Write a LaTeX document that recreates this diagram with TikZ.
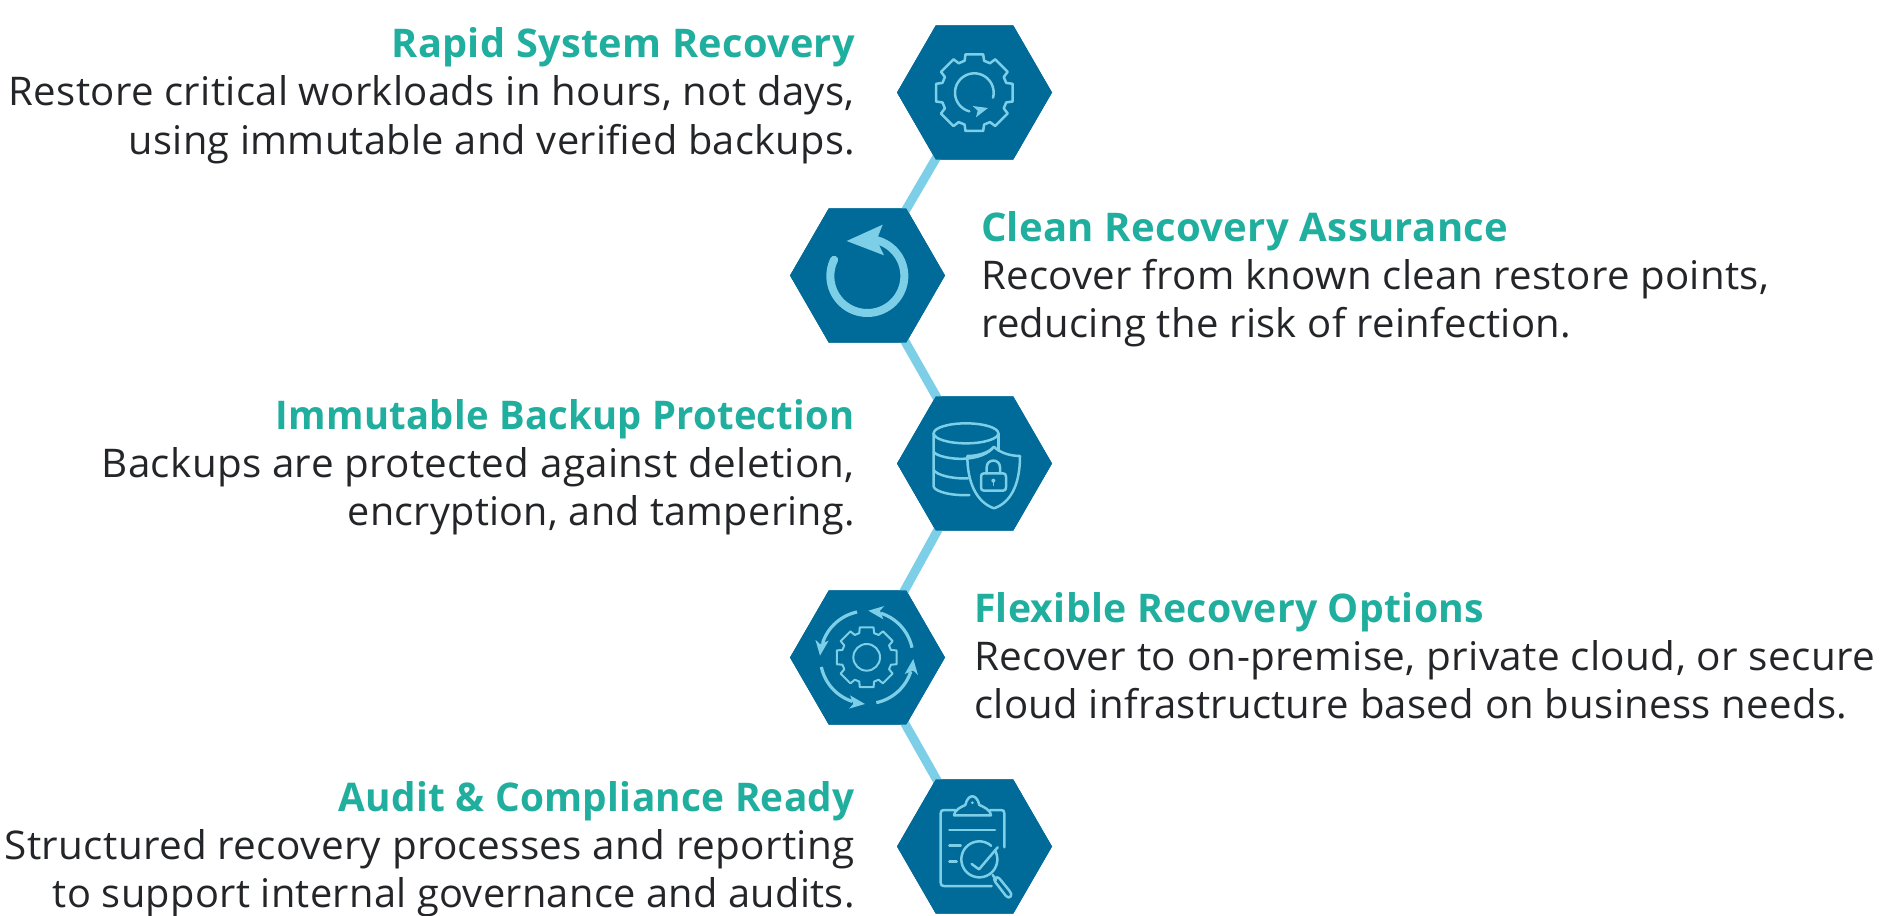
\documentclass[tikz,border=0pt]{standalone}
\usepackage{fontspec}
\usepackage{graphicx}
\setmainfont{Open Sans}[LetterSpace=0.8]
\usetikzlibrary{shapes.geometric}
\definecolor{hexblue}{HTML}{006A98}
\definecolor{iconblue}{HTML}{7DCFE8}
\definecolor{teal}{HTML}{20AE9E}
\definecolor{ink}{HTML}{242528}
\tikzset{
  hexnode/.style={regular polygon,regular polygon sides=6,minimum size=155pt,inner sep=0pt,fill=hexblue,draw=none},
  link/.style={draw=iconblue,line width=9pt},
  ttl/.style={font=\fontsize{39.5}{39.5}\selectfont\bfseries,text=teal,inner sep=0pt,anchor=base east},
  ttr/.style={font=\fontsize{39.5}{39.5}\selectfont\bfseries,text=teal,inner sep=0pt,anchor=base west},
  bdl/.style={font=\fontsize{39.5}{39.5}\selectfont,text=ink,inner sep=0pt,anchor=base east},
  bdr/.style={font=\fontsize{39.5}{39.5}\selectfont,text=ink,inner sep=0pt,anchor=base west},
  icon/.style={draw=iconblue,line width=2.5pt,line join=round,line cap=round},
}
\newcommand{\fitline}[2]{\resizebox{#1pt}{\height}{#2}}
% gear: cx cy rout rin
\newcommand{\gearshape}[4]{%
  \draw[icon] ({#1+#4*cos(-17)},{#2-#4*sin(-17)})
  \foreach \k in {0,45,...,315} {
    -- ({#1+#3*cos(\k-13)},{#2-#3*sin(\k-13)})
    -- ({#1+#3*cos(\k+13)},{#2-#3*sin(\k+13)})
    -- ({#1+#4*cos(\k+17)},{#2-#4*sin(\k+17)})
    -- ({#1+#4*cos(\k+28)},{#2-#4*sin(\k+28)})
  } -- cycle;}
% round arc: cx cy r from to
\newcommand{\arcplot}[6][icon]{%
  \draw[#1] plot[domain=#5:#6,samples=40,smooth] ({#2+#4*cos(\x)},{#3-#4*sin(\x)});}
% arrow segment rotated about centre: cx cy rotation
\newcommand{\cyclearrow}[3]{%
  \begin{scope}[shift={(#1,#2)},rotate=#3]
    \draw[icon,line width=3.2pt,line cap=butt] plot[domain=12:72,samples=30,smooth] ({139*cos(\x)},{-139*sin(\x)});
    \fill[iconblue] (5,-140) -- (53,-154) -- (40,-140) -- (50,-114) -- cycle;
  \end{scope}}
\begin{document}
\begin{tikzpicture}[x=1pt,y=-1pt]
\useasboundingbox (0,0) rectangle (1894,915);
\node[hexnode] (h1) at (974.5,92.5) {};
\node[hexnode] (h2) at (867.5,275.5) {};
\node[hexnode] (h3) at (974.5,463.5) {};
\node[hexnode] (h4) at (867.5,657.5) {};
\node[hexnode] (h5) at (974.5,846.5) {};
% connectors are drawn and the hexagons repainted over them
\draw[link] (h1.center) -- (h2.center);
\draw[link] (h2.center) -- (h3.center);
\draw[link] (h3.center) -- (h4.center);
\draw[link] (h4.center) -- (h5.center);
\node[hexnode] at (h1.center) {};
\node[hexnode] at (h2.center) {};
\node[hexnode] at (h3.center) {};
\node[hexnode] at (h4.center) {};
\node[hexnode] at (h5.center) {};
% icon 1
\begin{scope}[shift={(880,0)},scale=1/3]
  \gearshape{283}{278}{118}{100}
  \arcplot{283}{278}{58}{-15}{255}
  \fill[iconblue] (278,318) -- (324,324) -- (288,352) -- (293,332) -- cycle;
\end{scope}
% icon 2
\begin{scope}[shift={(770,190)},scale=1/3]
  \arcplot[icon,line width=8pt]{292}{258}{111}{154}{435}
  \fill[iconblue] (230,153) -- (338,104) -- (320,150) -- (342,196) -- cycle;
\end{scope}
% icon 3
\begin{scope}[shift={(880,380)},scale=1/3]
  \draw[icon] (258,160) ellipse [x radius=97,y radius=30];
  \draw[icon] (161,160) -- (161,320) .. controls (165,335) and (215,348) .. (268,345);
  \draw[icon] (355,160) -- (355,212);
  \draw[icon] (161,215) .. controls (170,235) and (290,255) .. (338,205);
  \draw[icon] (161,270) .. controls (170,285) and (215,297) .. (264,295);
  \draw[icon] (342,200) .. controls (360,220) and (395,228) .. (420,228)
     .. controls (420,300) and (400,365) .. (342,385)
     .. controls (285,365) and (262,300) .. (262,228)
     .. controls (290,228) and (325,220) .. (342,200) -- cycle;
  \draw[icon] (303,290) .. controls (303,283) and (306,280) .. (312,280) -- (369,280)
     .. controls (375,280) and (378,283) .. (378,290) -- (378,322)
     .. controls (378,329) and (375,332) .. (369,332) -- (312,332)
     .. controls (306,332) and (303,329) .. (303,322) -- cycle;
  \draw[icon] (320,280) -- (320,262) .. controls (320,235) and (360,235) .. (360,262) -- (360,280);
  \fill[iconblue] (340,302) circle [radius=6];
  \draw[icon,line width=1.5pt] (340,302) -- (340,316);
\end{scope}
% icon 4
\begin{scope}[shift={(770,570)},scale=1/3]
  \begin{scope}[icon/.append style={line width=2pt}]
    \gearshape{290}{262}{92}{76}
    \draw[icon] (290,262) circle [radius=40];
  \end{scope}
  \cyclearrow{290}{262}{0}
  \cyclearrow{290}{262}{90}
  \cyclearrow{290}{262}{180}
  \cyclearrow{290}{262}{270}
\end{scope}
% icon 5
\begin{scope}[shift={(880,760)},scale=1/3]
  \draw[icon] (373,262) -- (373,160) .. controls (373,153) and (370,150) .. (363,150) -- (330,150);
  \draw[icon] (225,150) -- (192,150) .. controls (185,150) and (182,153) .. (182,160) -- (182,368)
     .. controls (182,375) and (185,378) .. (192,378) -- (335,378);
  \draw[icon] (222,166) -- (333,166) .. controls (333,150) and (310,140) .. (298,135)
     .. controls (290,100) and (264,100) .. (256,135) .. controls (245,140) and (222,150) .. (222,166) -- cycle;
  \fill[iconblue] (277,128) circle [radius=4.5];
  \draw[icon] (208,210) -- (345,210);
  \draw[icon] (208,257) -- (242,257);
  \draw[icon] (208,305) -- (230,305);
  \arcplot{298}{298}{54}{50}{390}
  \fill[iconblue] (333,258) circle [radius=3];
  \draw[icon] (275,312) -- (297,328) -- (353,262);
  \draw[icon] (338,345) -- (348,360);
  \draw[icon] (345,365) -- (378,408) .. controls (388,420) and (402,405) .. (388,392) -- (358,355) .. controls (350,348) and (338,355) .. (345,365) -- cycle;
\end{scope}
% text
\node[ttl] (t1) at (855,58) {\fitline{463}{Rapid System Recovery}};
\node[bdl] (b1a) at (855,106) {\fitline{846}{Restore critical workloads in hours, not days,}};
\node[bdl] (b1b) at (855,154) {\fitline{726}{using immutable and verified backups.}};
\node[ttr] (t2) at (981,241) {\fitline{527}{Clean Recovery Assurance}};
\node[bdr] (b2a) at (981,289) {\fitline{788}{Recover from known clean restore points,}};
\node[bdr] (b2b) at (981,337) {\fitline{590}{reducing the risk of reinfection.}};
\node[ttl] (t3) at (855,429) {\fitline{579}{Immutable Backup Protection}};
\node[bdl] (b3a) at (855,477) {\fitline{753}{Backups are protected against deletion,}};
\node[bdl] (b3b) at (855,525) {\fitline{507}{encryption, and tampering.}};
\node[ttr] (t4) at (974,622) {\fitline{510}{Flexible Recovery Options}};
\node[bdr] (b4a) at (974,670) {\fitline{901}{Recover to on-premise, private cloud, or secure}};
\node[bdr] (b4b) at (974,718) {\fitline{873}{cloud infrastructure based on business needs.}};
\node[ttl] (t5) at (855,811.5) {\fitline{516}{Audit \& Compliance Ready}};
\node[bdl] (b5a) at (855,859.5) {\fitline{850}{Structured recovery processes and reporting}};
\node[bdl] (b5b) at (855,907.5) {\fitline{802}{to support internal governance and audits.}};
\end{tikzpicture}
\end{document}
